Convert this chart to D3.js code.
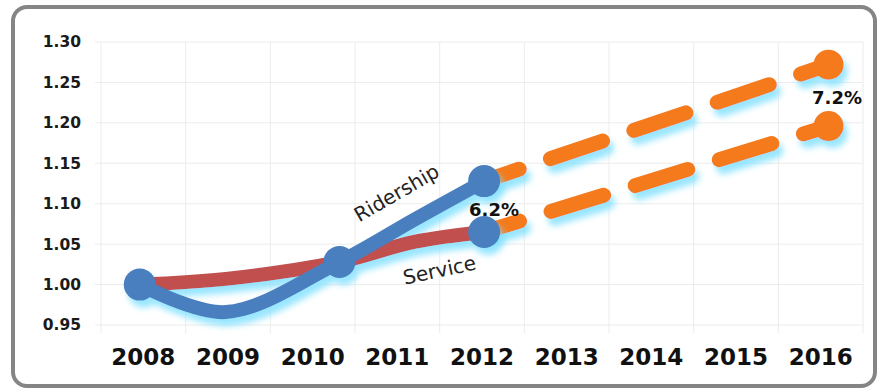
<!DOCTYPE html>
<html>
<head>
<meta charset="utf-8">
<script src="https://cdn.jsdelivr.net/npm/d3@7"></script>
<style>
  body { margin: 0; background: #fff; }
  svg { display: block; font-family: "DejaVu Sans", Verdana, sans-serif; }
</style>
</head>
<body>
<div id="chart"></div>
<script>
// categories and values
const years = ["2008", "2009", "2010", "2011", "2012", "2013", "2014", "2015", "2016"];
const yTicks = [0.95, 1.00, 1.05, 1.10, 1.15, 1.20, 1.25, 1.30];

const ridershipYears = [2008, 2009, 2010.32, 2011.2, 2012];
const ridershipValues = [1.00, 0.966, 1.028, 1.081, 1.128];
const serviceYears = [2008, 2009, 2010.32, 2011.2, 2012];
const serviceValues = [1.00, 1.007, 1.028, 1.053, 1.065];
const ridershipMarks = [0, 2, 4]; // indices that get a dot
const serviceMarks = [4];

const projYears = [2012, 2016];
const ridershipProj = [1.128, 1.272];
const serviceProj = [1.065, 1.196];

const W = 879, H = 392;

const svg = d3.select("#chart").append("svg")
    .attr("width", W)
    .attr("height", H);

// glow filter (cyan shadow under the lines)
const defs = svg.append("defs");
const f = defs.append("filter").attr("id", "glow")
    .attr("x", "-20%").attr("y", "-40%").attr("width", "140%").attr("height", "180%");
f.append("feGaussianBlur").attr("in", "SourceAlpha").attr("stdDeviation", 3).attr("result", "b");
f.append("feOffset").attr("in", "b").attr("dx", 4).attr("dy", 7).attr("result", "o");
f.append("feFlood").attr("flood-color", "#7fe0ff").attr("flood-opacity", 0.8);
f.append("feComposite").attr("in2", "o").attr("operator", "in").attr("result", "s");
const m = f.append("feMerge");
m.append("feMergeNode").attr("in", "s");
m.append("feMergeNode").attr("in", "SourceGraphic");

// frame
svg.append("rect")
    .attr("x", 13).attr("y", 7)
    .attr("width", 862).attr("height", 379)
    .attr("rx", 14)
    .attr("fill", "#fff")
    .attr("stroke", "#858585")
    .attr("stroke-width", 4);

// scales
const x = d3.scaleBand().domain(years).range([101, 863]);
const xd = d3.scaleLinear().domain([2007.55, 2016.4]).range([101, 863]);
const y = d3.scaleLinear().domain([0.95, 1.30]).range([325, 42]);

// grid
const grid = svg.append("g");
grid.selectAll(".hg").data(yTicks).enter().append("line")
    .attr("x1", 95).attr("x2", 863)
    .attr("y1", d => y(d)).attr("y2", d => y(d))
    .attr("stroke", "#ececec");
grid.selectAll(".vg").data(years.concat(["end"])).enter().append("line")
    .attr("x1", (d, i) => 101 + i * x.step())
    .attr("x2", (d, i) => 101 + i * x.step())
    .attr("y1", 42).attr("y2", 333)
    .attr("stroke", "#ececec");

// axes (labels only)
const yAxis = svg.append("g")
    .attr("transform", "translate(81,0)")
    .call(d3.axisLeft(y).tickValues(yTicks).tickFormat(d3.format(".2f")).tickSize(0).tickPadding(0));
yAxis.select(".domain").remove();
yAxis.selectAll("text")
    .attr("font-size", 15.5).attr("font-weight", "bold").attr("fill", "#1a1a1a")
    .attr("font-family", "DejaVu Sans, Verdana, sans-serif");

const xAxis = svg.append("g")
    .attr("transform", "translate(0,349)")
    .call(d3.axisBottom(x).tickSize(0).tickPadding(0));
xAxis.select(".domain").remove();
xAxis.selectAll("text")
    .attr("font-size", 23).attr("font-weight", "bold").attr("fill", "#111")
    .attr("font-family", "DejaVu Sans, Verdana, sans-serif");

const line = d3.line()
    .x(d => xd(d[0]))
    .y(d => y(d[1]))
    .curve(d3.curveCatmullRom.alpha(0.5));

const ridership = ridershipYears.map((v, i) => [v, ridershipValues[i]]);
const service = serviceYears.map((v, i) => [v, serviceValues[i]]);
const projR = projYears.map((v, i) => [v, ridershipProj[i]]);
const projS = projYears.map((v, i) => [v, serviceProj[i]]);

// projections (orange dashed)
const proj = svg.append("g").attr("filter", "url(#glow)");
[projR, projS].forEach(p => {
    proj.append("path")
        .attr("d", d3.line().x(d => xd(d[0])).y(d => y(d[1]))(p))
        .attr("fill", "none")
        .attr("stroke", "#f47a1f")
        .attr("stroke-width", 15)
        .attr("stroke-linecap", "round")
        .attr("stroke-dasharray", "55,33")
        .attr("stroke-dashoffset", 18);
    proj.append("circle")
        .attr("cx", xd(p[1][0])).attr("cy", y(p[1][1]))
        .attr("r", 15)
        .attr("fill", "#f47a1f");
});

// actual lines
const lines = svg.append("g").attr("filter", "url(#glow)");
lines.append("path")
    .attr("d", line(service))
    .attr("fill", "none")
    .attr("stroke", "#c0504d")
    .attr("stroke-width", 14)
    .attr("stroke-linecap", "round");
lines.append("path")
    .attr("d", line(ridership))
    .attr("fill", "none")
    .attr("stroke", "#4a7ebf")
    .attr("stroke-width", 14)
    .attr("stroke-linecap", "round");

const dots = ridershipMarks.map(i => ridership[i]).concat(serviceMarks.map(i => service[i]));
lines.selectAll(".dot").data(dots).enter().append("circle")
    .attr("cx", d => xd(d[0])).attr("cy", d => y(d[1]))
    .attr("r", 16)
    .attr("fill", "#4a7ebf");

// labels
svg.append("text")
    .attr("transform", "translate(400,199) rotate(-30)")
    .attr("text-anchor", "middle")
    .attr("font-size", 20).attr("fill", "#222")
    .text("Ridership");
svg.append("text")
    .attr("transform", "translate(441,277) rotate(-12)")
    .attr("text-anchor", "middle")
    .attr("font-size", 20).attr("fill", "#222")
    .text("Service");
svg.append("text")
    .attr("x", 494).attr("y", 216)
    .attr("text-anchor", "middle")
    .attr("font-size", 18).attr("font-weight", "bold").attr("fill", "#111")
    .text("6.2%");
svg.append("text")
    .attr("x", 837).attr("y", 104)
    .attr("text-anchor", "middle")
    .attr("font-size", 18).attr("font-weight", "bold").attr("fill", "#111")
    .text("7.2%");
</script>
</body>
</html>
